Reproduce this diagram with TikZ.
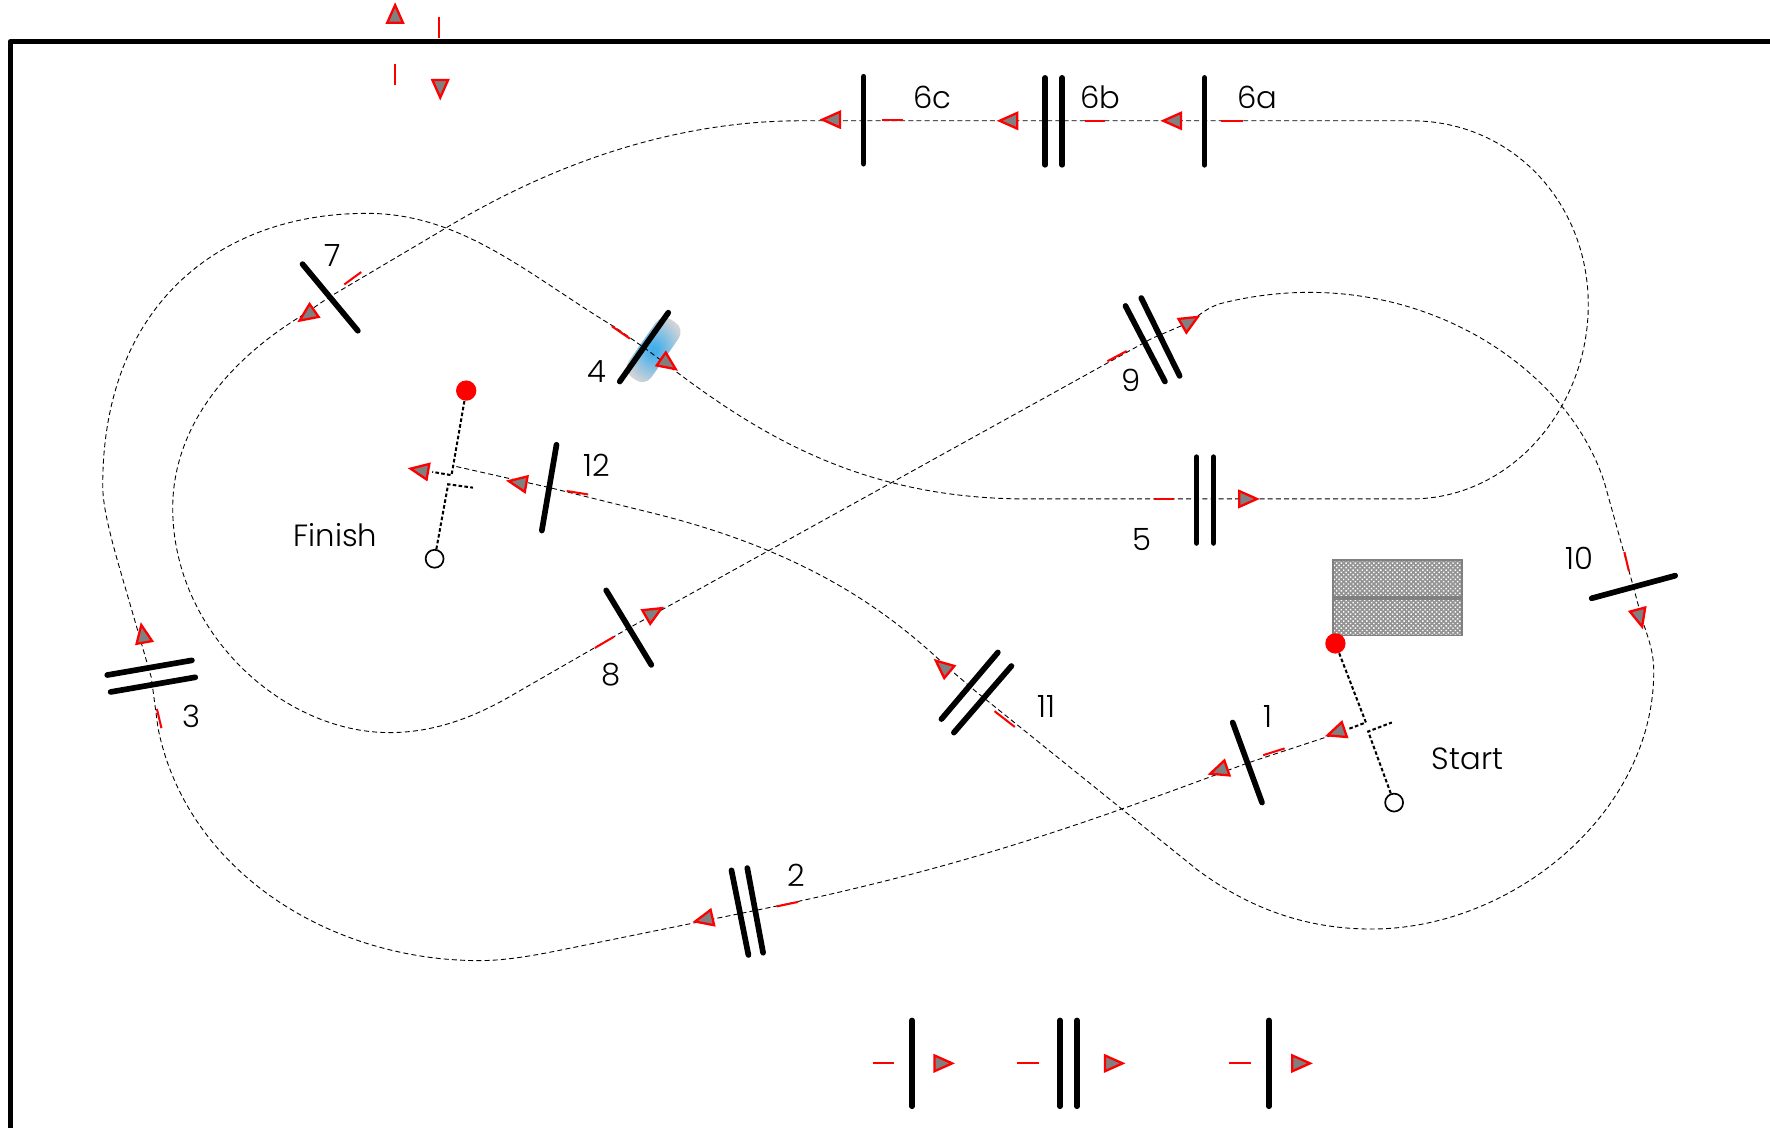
\documentclass[tikz,border=0pt]{standalone}
\usepackage{fontspec}
\setmainfont{Poppins}[UprightFont=* Light]
\usetikzlibrary{patterns.meta}
\definecolor{blobblue}{RGB}{70,175,235}
\definecolor{blobgray}{RGB}{208,211,215}
\pgfdeclareradialshading{blobshade}{\pgfpoint{0bp}{0bp}}{color(0bp)=(blobblue); color(3bp)=(blobblue); color(24bp)=(blobgray); color(50bp)=(blobgray)}
\tikzset{
  frameline/.style={line width=2.6pt,line cap=round,line join=round},
  track/.style={line width=0.45pt,dash pattern=on 2.5pt off 1.6pt,black},
  gatebar/.style={line width=2.85pt,line cap=round},
  reddash/.style={line width=1.02pt,red},
  redmark/.style={line width=0.85pt,red},
  arrowtri/.style={draw=red,fill=gray,line width=1.15pt,line join=miter},
  cone/.style={line width=1.02pt,dash pattern=on 1.8pt off 1.15pt},
  lab/.style={font=\fontsize{15.4}{18}\selectfont,inner sep=0pt,black},
  startdot/.style={circle,fill=red,inner sep=0pt,minimum size=10.2pt},
  enddot/.style={circle,draw=black,fill=white,line width=0.85pt,inner sep=0pt,minimum size=9pt},
}
\newcommand{\tri}[3]{\pgfmathsetmacro{\ca}{cos(#3)}\pgfmathsetmacro{\sa}{sin(#3)}%
  \draw[arrowtri] ({#1+10.5*\ca},{#2+10.5*\sa}) -- ({#1-5.2*\ca-7*\sa},{#2-5.2*\sa+7*\ca}) -- ({#1-5.2*\ca+7*\sa},{#2-5.2*\sa-7*\ca}) -- cycle;}
\begin{document}
\begin{tikzpicture}[x=0.56441bp,y=-0.56441bp]
\useasboundingbox (0,0) rectangle (1568,999.27);
% frame
\coordinate (fa) at (9,1010); \coordinate (fb) at (9,37); \coordinate (fc) at (1580,37);
\draw[frameline] (fa) -- (fb) -- (fc);
% grid box
\coordinate (bxa) at (1181,496); \coordinate (bxb) at (1295,563); \coordinate (bxl) at (1181,529.5); \coordinate (bxr) at (1295,529.5);
\fill[gray!85] (bxa) rectangle (bxb);
\fill[pattern={Dots[distance=1.65pt,radius=0.52pt,angle=45]},pattern color=white] (bxa) rectangle (bxb);
\draw[gray,line width=0.9pt] (bxa) rectangle (bxb);
\draw[gray,line width=2pt] (bxl) -- (bxr);
% blue blob at gate 4
\node[rotate=55,rounded corners=5.6pt,shading=blobshade,minimum width=35pt,minimum height=14pt,inner sep=0pt] (blob) at (579,310) {};
% track
\coordinate (g1) at (1105,676); \coordinate (g2) at (662,808); \coordinate (g3) at (134,600);
\coordinate (g4) at (572,309); \coordinate (g5) at (1067,442); \coordinate (g6a) at (1067,107);
\coordinate (g6b) at (933,107); \coordinate (g6c) at (765,107); \coordinate (g7) at (292,263);
\coordinate (g8) at (556,557); \coordinate (g9) at (1020,300); \coordinate (g10) at (1447,520);
\coordinate (g11) at (865,613); \coordinate (g12) at (487,432);
\coordinate (ts) at (1187,649); \coordinate (te) at (403,413);
\draw[track] (ts) -- (g1) .. controls (960,730) and (850,770) .. (g2) -- (490,843)
  .. controls (460,849) and (440,851) .. (425,851) .. controls (290,851) and (165,770) .. (140,645) -- (g3) -- (105,500)
  .. controls (95,465) and (91,445) .. (91,430) .. controls (91,270) and (195,189) .. (325,189)
  .. controls (410,189) and (470,245) .. (545,290) -- (g4) -- (600,330)
  .. controls (680,390) and (770,442) .. (910,442) -- (g5) -- (1250,442)
  .. controls (1340,442) and (1407,360) .. (1407,270) .. controls (1407,180) and (1340,107) .. (1250,107)
  -- (g6a) -- (g6b) -- (g6c) -- (710,107) .. controls (590,107) and (480,150) .. (390,205) -- (g7) -- (270,278)
  .. controls (200,320) and (153,380) .. (153,450) .. controls (153,560) and (250,649) .. (345,649)
  .. controls (385,649) and (420,635) .. (450,618) -- (g8) -- (g9) -- (1055,285)
  .. controls (1065,276) and (1075,270) .. (1085,268) .. controls (1110,262) and (1135,259) .. (1160,259) .. controls (1290,259) and (1395,340) .. (1422,430)
  -- (g10) -- (1455,550) .. controls (1462,570) and (1465,580) .. (1465,595)
  .. controls (1465,720) and (1340,823) .. (1215,823) .. controls (1150,823) and (1100,800) .. (1060,770)
  -- (g11) -- (838,590) .. controls (790,545) and (720,490) .. (580,455) -- (g12) -- (te);
% gates
\coordinate (a1) at (1092,640); \coordinate (b1) at (1118,711);
\draw[gatebar] (a1) -- (b1);
\coordinate (a2) at (648,771); \coordinate (b2) at (663,846); \coordinate (c2) at (662,769); \coordinate (d2) at (676,844);
\draw[gatebar] (a2) -- (b2); \draw[gatebar] (c2) -- (d2);
\coordinate (a3) at (95,598); \coordinate (b3) at (170,585); \coordinate (c3) at (98,613); \coordinate (d3) at (173,600);
\draw[gatebar] (a3) -- (b3); \draw[gatebar] (c3) -- (d3);
\coordinate (a4) at (549,338); \coordinate (b4) at (592,277);
\draw[gatebar] (a4) -- (b4);
\coordinate (a5) at (1060,405); \coordinate (b5) at (1060,481); \coordinate (c5) at (1075,405); \coordinate (d5) at (1075,481);
\draw[gatebar] (a5) -- (b5); \draw[gatebar] (c5) -- (d5);
\coordinate (a6a) at (1067,69); \coordinate (b6a) at (1067,146);
\draw[gatebar] (a6a) -- (b6a);
\coordinate (a6b) at (926,69); \coordinate (b6b) at (926,146); \coordinate (c6b) at (941,69); \coordinate (d6b) at (941,146);
\draw[gatebar] (a6b) -- (b6b); \draw[gatebar] (c6b) -- (d6b);
\coordinate (a6c) at (765,68); \coordinate (b6c) at (765,145);
\draw[gatebar] (a6c) -- (b6c);
\coordinate (a7) at (268,234); \coordinate (b7) at (317,293);
\draw[gatebar] (a7) -- (b7);
\coordinate (a8) at (537,523); \coordinate (b8) at (577,589);
\draw[gatebar] (a8) -- (b8);
\coordinate (a9) at (997,271); \coordinate (b9) at (1032,338); \coordinate (c9) at (1011,264); \coordinate (d9) at (1045,333);
\draw[gatebar] (a9) -- (b9); \draw[gatebar] (c9) -- (d9);
\coordinate (a10) at (1410,530); \coordinate (b10) at (1484,510);
\draw[gatebar] (a10) -- (b10);
\coordinate (a11) at (834,637); \coordinate (b11) at (884,578); \coordinate (c11) at (845,649); \coordinate (d11) at (896,590);
\draw[gatebar] (a11) -- (b11); \draw[gatebar] (c11) -- (d11);
\coordinate (a12) at (493,394); \coordinate (b12) at (480,470);
\draw[gatebar] (a12) -- (b12);
% legend gates
\coordinate (la) at (808,904); \coordinate (lb) at (808,980); \coordinate (lc) at (939,904); \coordinate (ld) at (939,980);
\coordinate (le) at (954,904); \coordinate (lf) at (954,980); \coordinate (lg) at (1124,904); \coordinate (lh) at (1124,980);
\draw[gatebar] (la) -- (lb); \draw[gatebar] (lc) -- (ld); \draw[gatebar] (le) -- (lf); \draw[gatebar] (lg) -- (lh);
% start and finish marks
\node[startdot] (sr) at (1183,570) {};
\node[enddot] (sw) at (1235,711) {};
\coordinate (s1) at (1210,640); \coordinate (s2) at (1212,648); \coordinate (s3) at (1194,646); \coordinate (s4) at (1233,640);
\draw[cone] (sr) -- (s1) -- (s3);
\draw[cone] (sw) -- (s2) -- (s4);
\node[startdot] (fr) at (413,346) {};
\node[enddot] (fw) at (385,495) {};
\coordinate (f1) at (400,421); \coordinate (f2) at (397,429); \coordinate (f3) at (383,418); \coordinate (f4) at (419,432);
\draw[cone] (fr) -- (f1) -- (f3);
\draw[cone] (fw) -- (f2) -- (f4);
% red dashes
\foreach \xa/\ya/\xb/\yb in {1119/669/1138/663,688/803/707/799,139/628/143/645,542/289/558/300,1022/442/1040/442,1082/107/1101/107,961/107/979/107,781/106/800/106,305/252/320/241,527/574/544/564,981/320/998/311,1439/489/1443/506,881/630/899/644,502/435/521/438,773/942/792/942,901/942/920/942,1089/942/1108/942}
  \draw[reddash] (\xa,\ya) -- (\xb,\yb);
\foreach \xa/\ya/\xb/\yb in {389/15/389/34,350/57/350/75}
  \draw[redmark] (\xa,\ya) -- (\xb,\yb);
% arrowheads
\tri{1186}{648}{161} \tri{1082}{682}{161} \tri{626}{814}{167} \tri{127}{564}{-100}
\tri{590}{321}{35} \tri{1103}{442}{0} \tri{1041}{107}{180} \tri{896}{107}{180} \tri{739}{106}{180}
\tri{274}{278}{145} \tri{577}{544}{-30} \tri{1052}{286}{-30} \tri{1452}{545}{75} \tri{837}{592}{-140}
\tri{461}{428}{-170} \tri{374}{417}{-170} \tri{833}{942}{0} \tri{984}{942}{0} \tri{1150}{942}{0}
\tri{350}{15}{-90} \tri{390}{76}{90}
% labels
\node[lab] (l1) at (1123,635) {1};
\node[lab] (l2) at (705,775) {2};
\node[lab] (l3) at (170,635) {3};
\node[lab] (l4) at (529,329) {4};
\node[lab] (l5) at (1012,478) {5};
\node[lab] (l6a) at (1114,86) {6a};
\node[lab] (l6b) at (975,86) {6b};
\node[lab] (l6c) at (826,86) {6c};
\node[lab] (l7) at (295,226) {7};
\node[lab] (l8) at (541,598) {8};
\node[lab] (l9) at (1002,337) {9};
\node[lab] (l10) at (1399,495) {10};
\node[lab] (l11) at (927,626) {11};
\node[lab] (l12) at (529,412) {12};
\node[lab] (lfin) at (297,474) {Finish};
\node[lab] (lsta) at (1300,672) {Start};
\end{tikzpicture}
\end{document}
